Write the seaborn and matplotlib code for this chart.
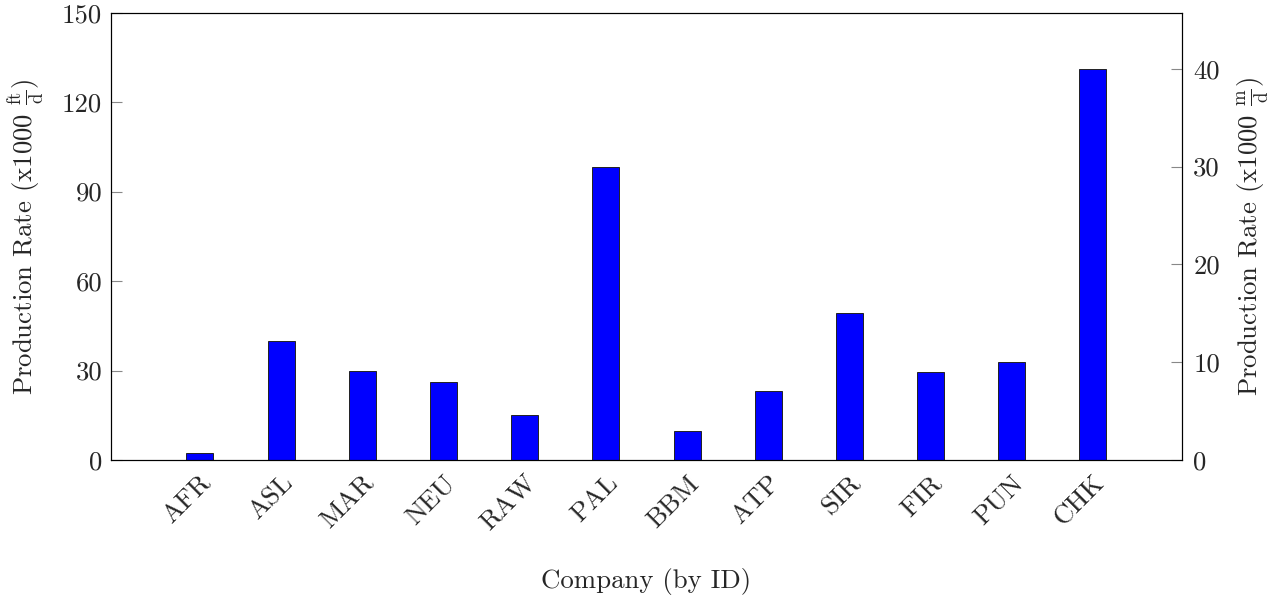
import matplotlib
matplotlib.use("Agg")
import matplotlib.pyplot as plt
import matplotlib.transforms as mtransforms
import seaborn as sns
import pandas as pd

# Production rates per company, in thousands of feet per day
companies = ["AFR", "ASL", "MAR", "NEU", "RAW", "PAL", "BBM", "ATP", "SIR", "FIR", "PUN", "CHK"]
rate_ft = [2.2, 40.0, 30.0, 26.2, 15.0, 98.4, 9.8, 23.0, 49.2, 29.5, 32.8, 131.2]

left_ticks = [0, 30, 60, 90, 120, 150]
right_ticks = [0, 10, 20, 30, 40]
FT_TO_M = 0.3048

df = pd.DataFrame({"company": companies, "rate": rate_ft})

sns.set_theme(style="white")
plt.rcParams.update({
    "font.family": ["cmr10"],
    "mathtext.fontset": "cm",
    "axes.formatter.use_mathtext": True,
    "axes.unicode_minus": False,
    "axes.edgecolor": "black",
    "axes.linewidth": 0.8,
})

fig = plt.figure(figsize=(12.81, 6.0), dpi=100)
ax = fig.add_axes([0.0864, 0.2333, 0.8365, 0.7455])

sns.barplot(data=df, x="company", y="rate", color="#0000ff", saturation=1,
            width=0.333, edgecolor="#222222", linewidth=0.7, ax=ax)

ax.set_xlim(-1.1, 12.1)
ax.set_ylim(0, 150)
ax.set_yticks(left_ticks)
ax.set_yticklabels([str(t) for t in left_ticks])

fs = 19.3
ax.tick_params(axis="y", direction="in", length=7.7, width=0.8, color="#888888",
               labelsize=fs, pad=6)
ax.tick_params(axis="x", length=0, labelsize=fs, pad=4)
for lbl in ax.get_xticklabels():
    lbl.set_rotation(45)
    lbl.set_ha("right")
    lbl.set_va("center")
    lbl.set_rotation_mode("anchor")
    lbl.set_transform(lbl.get_transform() +
                      mtransforms.ScaledTranslation(8 / 100, -14 / 100, fig.dpi_scale_trans))

ax.set_xlabel("Company (by ID)", fontsize=fs, labelpad=23)
ax.set_ylabel(r"Production Rate (x1000 $\frac{\mathrm{ft}}{\mathrm{d}}$)", fontsize=fs, labelpad=11)

ax2 = ax.twinx()
ax2.set_ylim(0, 150 * FT_TO_M)
ax2.set_yticks(right_ticks)
ax2.set_yticklabels([str(t) for t in right_ticks])
ax2.tick_params(axis="y", direction="in", length=7.7, width=0.8, color="#888888",
                labelsize=fs, pad=8)
ax2.set_ylabel(r"Production Rate (x1000 $\frac{\mathrm{m}}{\mathrm{d}}$)", fontsize=fs, labelpad=11)
ax2.grid(False)
ax.grid(False)
for s in ax.spines.values():
    s.set_visible(True)
    s.set_color("black")

fig.savefig("out.png", dpi=100)
